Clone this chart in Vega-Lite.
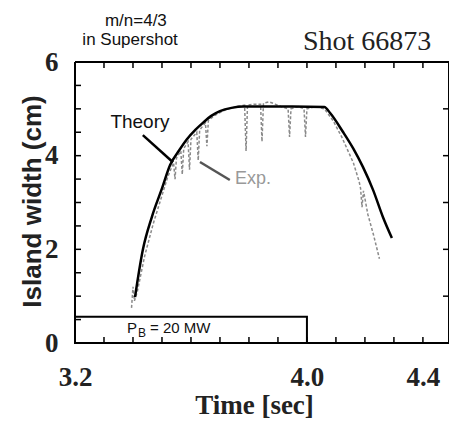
{
  "$schema": "https://vega.github.io/schema/vega-lite/v6.json",
  "width": 374,
  "height": 281,
  "autosize": {"type": "none"},
  "padding": {"left": 75, "top": 62, "right": 0, "bottom": 78},
  "background": "white",
  "config": {"view": {"stroke": null}},
  "datasets": {
    "theory": [
      {"t": 3.407, "w": 0.98}, {"t": 3.434, "w": 1.99}, {"t": 3.465, "w": 2.69}, {"t": 3.5, "w": 3.3},
      {"t": 3.528, "w": 3.8}, {"t": 3.56, "w": 4.12}, {"t": 3.586, "w": 4.35}, {"t": 3.615, "w": 4.55},
      {"t": 3.641, "w": 4.7}, {"t": 3.67, "w": 4.85}, {"t": 3.7, "w": 4.95}, {"t": 3.74, "w": 5.02},
      {"t": 3.78, "w": 5.05}, {"t": 3.85, "w": 5.05}, {"t": 3.95, "w": 5.05}, {"t": 4.06, "w": 5.04},
      {"t": 4.08, "w": 4.91}, {"t": 4.124, "w": 4.51}, {"t": 4.16, "w": 4.15}, {"t": 4.193, "w": 3.76},
      {"t": 4.228, "w": 3.27}, {"t": 4.262, "w": 2.69}, {"t": 4.293, "w": 2.24}
    ],
    "exp": [
      {"t": 3.395, "w": 0.75}, {"t": 3.4, "w": 1.2}, {"t": 3.405, "w": 0.9}, {"t": 3.415, "w": 1.1},
      {"t": 3.44, "w": 1.85}, {"t": 3.47, "w": 2.55}, {"t": 3.5, "w": 3.15}, {"t": 3.52, "w": 3.55},
      {"t": 3.54, "w": 3.85}, {"t": 3.545, "w": 3.5}, {"t": 3.55, "w": 3.95}, {"t": 3.565, "w": 4.1},
      {"t": 3.57, "w": 3.6}, {"t": 3.575, "w": 4.15}, {"t": 3.59, "w": 4.3}, {"t": 3.595, "w": 3.7},
      {"t": 3.6, "w": 4.35}, {"t": 3.62, "w": 4.5}, {"t": 3.625, "w": 3.9}, {"t": 3.63, "w": 4.55},
      {"t": 3.65, "w": 4.7}, {"t": 3.655, "w": 4.2}, {"t": 3.66, "w": 4.75}, {"t": 3.68, "w": 4.85},
      {"t": 3.7, "w": 4.92}, {"t": 3.72, "w": 4.98}, {"t": 3.74, "w": 5.02}, {"t": 3.76, "w": 5.05},
      {"t": 3.785, "w": 5.08}, {"t": 3.79, "w": 4.1}, {"t": 3.795, "w": 5.08}, {"t": 3.82, "w": 5.1},
      {"t": 3.84, "w": 5.1}, {"t": 3.845, "w": 4.3}, {"t": 3.85, "w": 5.12}, {"t": 3.87, "w": 5.15},
      {"t": 3.89, "w": 5.1}, {"t": 3.91, "w": 5.05}, {"t": 3.935, "w": 5.0}, {"t": 3.94, "w": 4.4},
      {"t": 3.945, "w": 5.0}, {"t": 3.97, "w": 5.05}, {"t": 3.99, "w": 5.0}, {"t": 3.995, "w": 4.4},
      {"t": 4.0, "w": 5.0}, {"t": 4.03, "w": 5.05}, {"t": 4.06, "w": 5.0}, {"t": 4.09, "w": 4.75},
      {"t": 4.12, "w": 4.4}, {"t": 4.16, "w": 3.85}, {"t": 4.18, "w": 3.45}, {"t": 4.185, "w": 3.3},
      {"t": 4.19, "w": 2.9}, {"t": 4.195, "w": 3.25}, {"t": 4.21, "w": 2.75}, {"t": 4.23, "w": 2.3},
      {"t": 4.25, "w": 1.8}
    ],
    "box": [{"t1": 3.2, "t2": 4.0, "w1": 0, "w2": 0.56}],
    "frame": [
      {"t1": 3.2, "w1": 0, "t2": 4.49, "w2": 0},
      {"t1": 3.2, "w1": 6, "t2": 4.49, "w2": 6},
      {"t1": 3.2, "w1": 0, "t2": 3.2, "w2": 6},
      {"t1": 4.49, "w1": 0, "t2": 4.49, "w2": 6}
    ],
    "pointers": [
      {"t1": 3.434, "w1": 4.44, "t2": 3.538, "w2": 3.86, "who": "Theory"},
      {"t1": 3.631, "w1": 3.865, "t2": 3.734, "w2": 3.48, "who": "Exp."}
    ],
    "bticks": [{"t": 3.3, "w": 0}, {"t": 3.4, "w": 0}, {"t": 3.5, "w": 0}, {"t": 3.6, "w": 0}, {"t": 3.7, "w": 0}, {"t": 3.8, "w": 0}, {"t": 3.9, "w": 0}, {"t": 4.0, "w": 0}, {"t": 4.1, "w": 0}, {"t": 4.2, "w": 0}, {"t": 4.3, "w": 0}, {"t": 4.4, "w": 0}],
    "tticks": [{"t": 3.3, "w": 6}, {"t": 3.4, "w": 6}, {"t": 3.5, "w": 6}, {"t": 3.6, "w": 6}, {"t": 3.7, "w": 6}, {"t": 3.8, "w": 6}, {"t": 3.9, "w": 6}, {"t": 4.0, "w": 6}, {"t": 4.1, "w": 6}, {"t": 4.2, "w": 6}, {"t": 4.3, "w": 6}, {"t": 4.4, "w": 6}],
    "lticks": [{"t": 3.2, "w": 0.5}, {"t": 3.2, "w": 1}, {"t": 3.2, "w": 1.5}, {"t": 3.2, "w": 2}, {"t": 3.2, "w": 2.5}, {"t": 3.2, "w": 3}, {"t": 3.2, "w": 3.5}, {"t": 3.2, "w": 4}, {"t": 3.2, "w": 4.5}, {"t": 3.2, "w": 5}, {"t": 3.2, "w": 5.5}],
    "rticks": [{"t": 4.49, "w": 1}, {"t": 4.49, "w": 2}, {"t": 4.49, "w": 3}, {"t": 4.49, "w": 4}, {"t": 4.49, "w": 5}]
  },
  "encoding": {
    "x": {"type": "quantitative", "scale": {"domain": [3.2, 4.49], "nice": false, "zero": false},
      "axis": {"orient": "bottom", "values": [3.2, 4.0, 4.4],
        "labelExpr": "format(datum.value, '.1f')",
        "labelOverlap": false, "labelFlush": false, "labelFont": "Liberation Serif", "labelFontWeight": "bold",
        "labelFontSize": 27, "labelColor": "#222", "labelPadding": 21, "labelDx": 4,
        "ticks": false, "domain": false, "grid": false,
        "title": "Time [sec]", "titleFont": "Liberation Serif", "titleFontWeight": "bold", "titleFontSize": 27,
        "titleColor": "#222", "titleX": 179, "titleY": 70, "titleBaseline": "alphabetic", "titleAnchor": null}},
    "y": {"type": "quantitative", "scale": {"domain": [0, 6], "nice": false, "zero": false},
      "axis": {"orient": "left", "values": [0, 2, 4, 6],
        "labelExpr": "format(datum.value, 'd')",
        "labelOverlap": false, "labelFlush": false, "labelFont": "Liberation Serif", "labelFontWeight": "bold",
        "labelFontSize": 27, "labelColor": "#222", "labelPadding": 17, "labelDy": 3,
        "ticks": false, "domain": false, "grid": false,
        "title": "Island width (cm)", "titleFont": "Liberation Sans", "titleFontWeight": "bold", "titleFontSize": 26,
        "titleColor": "#222", "titleX": -35, "titleY": 139, "titleBaseline": "alphabetic", "titleAngle": 270}}
  },
  "layer": [
    {
      "data": {"name": "frame"},
      "mark": {"type": "rule", "color": "black", "strokeWidth": 2},
      "encoding": {"x": {"field": "t1"}, "x2": {"field": "t2"}, "y": {"field": "w1"}, "y2": {"field": "w2"}}
    },
    {
      "data": {"name": "bticks"},
      "mark": {"type": "rule", "color": "black", "strokeWidth": 1.5, "y2Offset": -6},
      "encoding": {"x": {"field": "t"}, "y": {"field": "w"}, "y2": {"field": "w"}}
    },
    {
      "data": {"name": "tticks"},
      "mark": {"type": "rule", "color": "black", "strokeWidth": 1.5, "y2Offset": 6},
      "encoding": {"x": {"field": "t"}, "y": {"field": "w"}, "y2": {"field": "w"}}
    },
    {
      "data": {"name": "lticks"},
      "mark": {"type": "rule", "color": "black", "strokeWidth": 1.5, "x2Offset": 6},
      "encoding": {"y": {"field": "w"}, "x": {"field": "t"}, "x2": {"field": "t"}}
    },
    {
      "data": {"name": "rticks"},
      "mark": {"type": "rule", "color": "black", "strokeWidth": 1.5, "x2Offset": -6},
      "encoding": {"y": {"field": "w"}, "x": {"field": "t"}, "x2": {"field": "t"}}
    },
    {
      "data": {"name": "box"},
      "mark": {"type": "rect", "fill": null, "stroke": "black", "strokeWidth": 2},
      "encoding": {"x": {"field": "t1"}, "x2": {"field": "t2"}, "y": {"field": "w1"}, "y2": {"field": "w2"}}
    },
    {
      "data": {"name": "exp"},
      "mark": {"type": "line", "color": "#8a8a8a", "strokeWidth": 1.5, "strokeDash": [3, 2]},
      "encoding": {"x": {"field": "t"}, "y": {"field": "w"}, "order": {"field": "t", "type": "quantitative"}}
    },
    {
      "data": {"name": "theory"},
      "mark": {"type": "line", "color": "black", "strokeWidth": 2.5, "interpolate": "monotone"},
      "encoding": {"x": {"field": "t"}, "y": {"field": "w"}}
    },
    {
      "data": {"name": "pointers"},
      "mark": {"type": "rule", "strokeWidth": 2.5},
      "encoding": {
        "x": {"field": "t1"}, "x2": {"field": "t2"}, "y": {"field": "w1"}, "y2": {"field": "w2"},
        "color": {"field": "who", "type": "nominal", "scale": {"domain": ["Theory", "Exp."], "range": ["black", "#555555"]}, "legend": null}
      }
    },
    {
      "data": {"values": [{"label": "Theory", "t": 3.424, "w": 4.59}]},
      "mark": {"type": "text", "font": "Liberation Sans", "fontSize": 19, "align": "center", "baseline": "alphabetic", "color": "#111"},
      "encoding": {"x": {"field": "t"}, "y": {"field": "w"}, "text": {"field": "label"}}
    },
    {
      "data": {"values": [{"label": "Exp.", "t": 3.814, "w": 3.40}]},
      "mark": {"type": "text", "font": "Liberation Sans", "fontSize": 18, "align": "center", "baseline": "alphabetic", "color": "#999999"},
      "encoding": {"x": {"field": "t"}, "y": {"field": "w"}, "text": {"field": "label"}}
    },
    {
      "data": {"values": [{"label": "Shot 66873", "t": 3.986, "w": 6.26}]},
      "mark": {"type": "text", "font": "Liberation Serif", "fontSize": 28, "align": "left", "baseline": "alphabetic", "color": "#222"},
      "encoding": {"x": {"field": "t"}, "y": {"field": "w"}, "text": {"field": "label"}}
    },
    {
      "data": {"values": [{"label": "m/n=4/3", "t": 3.41, "w": 6.77}, {"label": "in Supershot", "t": 3.39, "w": 6.36}]},
      "mark": {"type": "text", "font": "Liberation Sans", "fontSize": 17, "align": "center", "baseline": "alphabetic", "color": "#111"},
      "encoding": {"x": {"field": "t"}, "y": {"field": "w"}, "text": {"field": "label"}}
    },
    {
      "data": {"values": [{"label": "P", "t": 3.379, "w": 0.21}, {"label": "= 20 MW", "t": 3.459, "w": 0.21}]},
      "mark": {"type": "text", "font": "Liberation Sans", "fontSize": 15, "align": "left", "baseline": "alphabetic", "color": "#111"},
      "encoding": {"x": {"field": "t"}, "y": {"field": "w"}, "text": {"field": "label"}}
    },
    {
      "data": {"values": [{"label": "B", "t": 3.417, "w": 0.12}]},
      "mark": {"type": "text", "font": "Liberation Sans", "fontSize": 12, "align": "left", "baseline": "alphabetic", "color": "#111"},
      "encoding": {"x": {"field": "t"}, "y": {"field": "w"}, "text": {"field": "label"}}
    }
  ]
}
